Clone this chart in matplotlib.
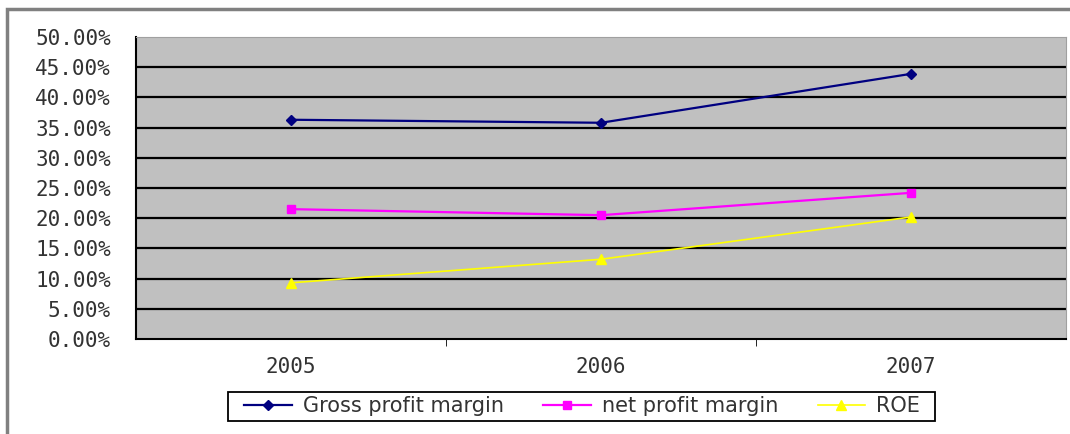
import matplotlib
matplotlib.use('Agg')
import matplotlib.pyplot as plt
from matplotlib.patches import Rectangle
from matplotlib.ticker import FuncFormatter

years = ['2005', '2006', '2007']
gross_margin = [36.3, 35.8, 43.9]
net_margin = [21.5, 20.5, 24.2]
roe = [9.3, 13.2, 20.2]

W, H = 1070, 434
fig = plt.figure(figsize=(W / 100, H / 100), dpi=100)
fig.patches.append(Rectangle((7 / W, -0.1), 1.2, 1 - 9 / H + 0.1,
                             transform=fig.transFigure, fill=False,
                             edgecolor='#808080', linewidth=2.5))

ax = fig.add_axes([136 / W, 1 - 339 / H, 930 / W, 302 / H])
ax.set_facecolor('#c0c0c0')

x = range(len(years))
ax.plot(x, gross_margin, color='#000080', marker='D', markersize=5,
        linewidth=1.6, label='Gross profit margin')
ax.plot(x, net_margin, color='#ff00ff', marker='s', markersize=6,
        linewidth=1.6, label='net profit margin')
ax.plot(x, roe, color='#ffff00', marker='^', markersize=7,
        linewidth=1.2, label='ROE')

ax.set_xlim(-0.5, 2.5)
ax.set_ylim(0, 50)
ax.set_yticks(range(0, 51, 5))
ax.yaxis.set_major_formatter(FuncFormatter(lambda v, p: '%.2f%%' % v))
ax.set_xticks(list(x))
ax.set_xticklabels(years)
ax.set_xticks([0.5, 1.5], minor=True)
ax.tick_params(axis='x', which='major', length=0, pad=13)
ax.tick_params(axis='x', which='minor', length=5, direction='out')
ax.tick_params(axis='y', length=0, pad=18)
for lbl in ax.get_xticklabels() + ax.get_yticklabels():
    lbl.set_family('DejaVu Sans Mono')
    lbl.set_fontsize(15)
    lbl.set_color('#333333')

for v in range(5, 50, 5):
    ax.axhline(v, color='black', linewidth=1.6, zorder=1)

ax.spines['left'].set_color('black')
ax.spines['bottom'].set_color('black')
ax.spines['left'].set_linewidth(1.5)
ax.spines['bottom'].set_linewidth(1.5)
ax.spines['top'].set_color('#a0a0a0')
ax.spines['right'].set_color('#a0a0a0')

# legend frame drawn separately so it can be wider than the entries
fig.patches.append(Rectangle((228 / W, 1 - 421 / H), 707 / W, 29 / H,
                             transform=fig.transFigure, fill=False,
                             edgecolor='black', linewidth=1.3))
leg = fig.legend(loc='center', bbox_to_anchor=(582 / W, 1 - 406 / H),
                 ncol=3, frameon=False, fontsize=15,
                 handlelength=2.3, columnspacing=1.9, borderpad=0.2,
                 handletextpad=0.5, borderaxespad=0)
for t in leg.get_texts():
    t.set_color('#333333')

fig.savefig('out.png')
